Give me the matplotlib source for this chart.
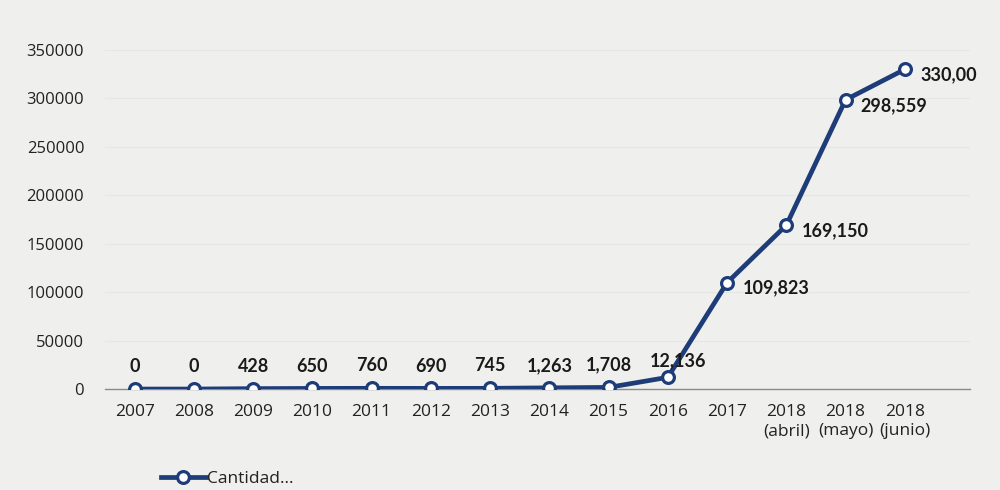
import matplotlib.pyplot as plt
from matplotlib.ticker import MultipleLocator

# data
categories = ['2007', '2008', '2009', '2010', '2011', '2012', '2013', '2014',
              '2015', '2016', '2017', '2018\n(abril)', '2018\n(mayo)', '2018\n(junio)']
cantidad = [0, 0, 428, 650, 760, 690, 745, 1263, 1708, 12136,
            109823, 169150, 298559, 330000]
value_labels = ['0', '0', '428', '650', '760', '690', '745', '1,263', '1,708',
                '12,136', '109,823', '169,150', '298,559', '330,00']

navy = '#1d3c78'
plt.rcParams['font.family'] = ['Open Sans', 'DejaVu Sans']
bold_font = ['Lato', 'DejaVu Sans']

fig = plt.figure(figsize=(10, 4.9), dpi=100, facecolor='#efefed')
ax = fig.add_axes([0.105, 0.206, 0.865, 0.692])
ax.set_facecolor('#efefed')

x = list(range(len(categories)))
line, = ax.plot(x, cantidad, color=navy, linewidth=3.4, marker='o', markersize=8.5,
                markerfacecolor='white', markeredgecolor=navy, markeredgewidth=2.3,
                zorder=3, label='Cantidad...')

# value labels: above the flat part, to the right for the steep part
for i, (v, lab) in enumerate(zip(cantidad, value_labels)):
    if i <= 8:
        ax.annotate(lab, (i, v), xytext=(0, 10), textcoords='offset points',
                    ha='center', va='bottom', fontsize=13, fontweight='bold',
                    family=bold_font, color='#1a1a1a')
    elif i == 9:
        ax.annotate(lab, (i, v), xytext=(7, 6), textcoords='offset points',
                    ha='center', va='bottom', fontsize=13, fontweight='bold',
                    family=bold_font, color='#1a1a1a')
    else:
        ax.annotate(lab, (i, v), xytext=(11, -4), textcoords='offset points',
                    ha='left', va='center', fontsize=13, fontweight='bold',
                    family=bold_font, color='#1a1a1a')

ax.set_xlim(-0.5, len(categories) + 0.1)
ax.set_ylim(0, 350000)
ax.yaxis.set_major_locator(MultipleLocator(50000))
ax.set_xticks(x)
ax.set_xticklabels(categories, fontsize=12.5, color='#222222', linespacing=1.25)
ax.tick_params(axis='y', labelsize=12, labelcolor='#222222', length=0, pad=15)
ax.tick_params(axis='x', length=0, pad=11)

ax.grid(axis='y', color='#e6e6e4', linewidth=0.8)
ax.set_axisbelow(True)
for side in ['top', 'right', 'left']:
    ax.spines[side].set_visible(False)
ax.spines['bottom'].set_color('#8a8a8a')
ax.spines['bottom'].set_linewidth(1.0)

fig.legend(handles=[line], loc='lower left', bbox_to_anchor=(0.145, -0.025),
           frameon=False, fontsize=12.5, handlelength=2.6, handletextpad=0.1,
           labelcolor='#222222')

fig.savefig('out.png', dpi=100, facecolor=fig.get_facecolor())
